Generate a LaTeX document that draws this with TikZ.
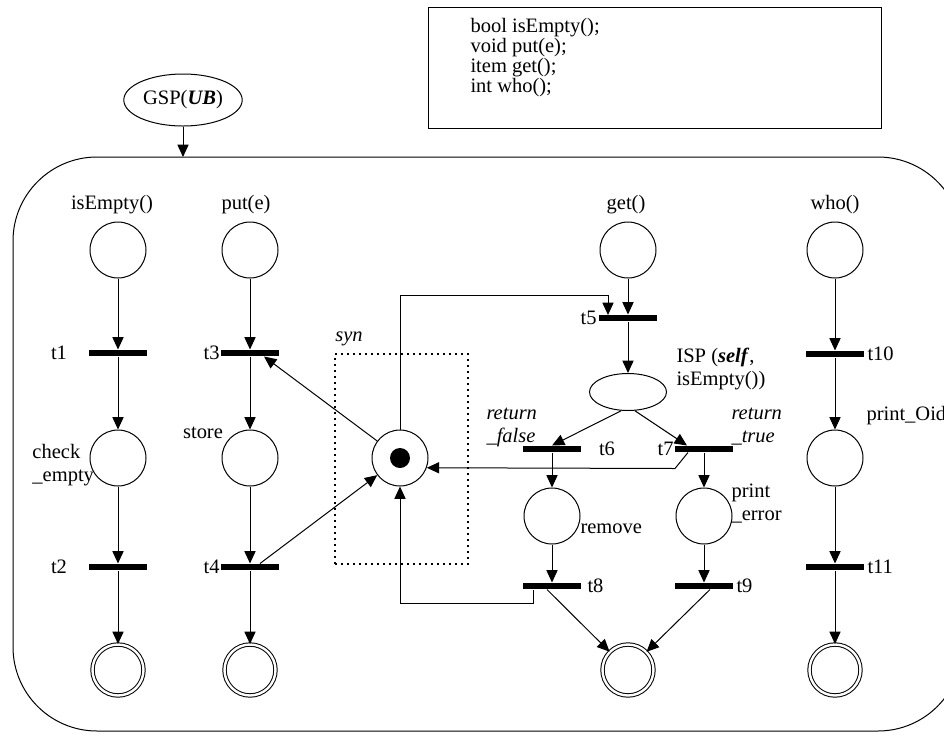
\documentclass[tikz,border=0pt]{standalone}
\usepackage{fontspec}
\setmainfont{Liberation Serif}
\usetikzlibrary{arrows.meta,shapes.geometric}

\begin{document}
\begin{tikzpicture}[x=0.5pt, y=-0.5pt, line width=0.5pt,
    >={Triangle[length=6.2pt,width=5.6pt]},
    every node/.style={font=\fontsize{10.25}{11.5}\selectfont}]
    \tikzset{place/.style={%
      draw,%
      circle,%
      minimum size=28pt,%
      inner sep=0pt}%
    };
\tikzset{finalplace/.style={place, minimum size=25.5pt, double, double distance=1.2pt}};
\tikzset{trans/.style={rectangle, fill=black, minimum width=29pt, minimum height=3pt, inner sep=0pt}};
\tikzset{lbl/.style={inner sep=0pt}};

\useasboundingbox (0,0) rectangle (944,735);
\clip (0,0) rectangle (944,735);

%generic service process and its interface
\node[draw, ellipse, minimum width=56pt, minimum height=26pt, inner sep=1pt] (gsp) at (183,100) {GSP(\textbf{\textit{UB}})};
\node[draw, anchor=north west, minimum width=226.5pt, minimum height=60.5pt] (iface) at (428,7) {};
\node[lbl, anchor=north west, align=left, font=\fontsize{10.25}{9.9}\selectfont] (ops) at (470,18) {bool isEmpty();\\void put(e);\\item get();\\int who();};

%object outline
\draw[rounded corners=42pt] (13,157) rectangle (962,731);
\coordinate (ubTop) at (183,157);
\draw[->] (gsp) -- (ubTop);

%isEmpty() column
\node[lbl] (emptyName) at (112,205) {isEmpty()};
\node[place] (emptyIn) at (118,250) {};
\node[trans] (t1) at (118,353) {};
\node[lbl] (t1Name) at (59,353) {t1};
\node[place] (checkEmpty) at (118,458) {};
\node[lbl, anchor=west, align=left] (checkName) at (32,465) {check\\\_empty};
\node[trans] (t2) at (118,567) {};
\node[lbl] (t2Name) at (59,567) {t2};
\node[finalplace] (emptyOut) at (118,670) {};

\draw[->] (emptyIn) -- (t1);
\draw[->] (t1) -- (checkEmpty);
\draw[->] (checkEmpty) -- (t2);
\draw[->] (t2) -- (emptyOut);

%put(e) column
\node[lbl] (putName) at (246,205) {put(e)};
\node[place] (putIn) at (250,250) {};
\node[trans] (t3) at (250,353) {};
\node[lbl, anchor=east] (t3Name) at (220,353) {t3};
\node[place] (store) at (250,458) {};
\node[lbl] (storeName) at (203,433) {store};
\node[trans] (t4) at (250,567) {};
\node[lbl, anchor=east] (t4Name) at (220,567) {t4};
\node[finalplace] (putOut) at (250,670) {};

\draw[->] (putIn) -- (t3);
\draw[->] (t3) -- (store);
\draw[->] (store) -- (t4);
\draw[->] (t4) -- (putOut);

%synchronisation place
\node[place] (syn) at (400,458) {};
\node[circle, fill=black, minimum size=10pt, inner sep=0pt] (token) at (syn) {};
\node[draw, dotted, line width=1pt, minimum width=66.5pt, minimum height=105pt, inner sep=0pt] (synBox) at (401.5,459) {};
\node[lbl, font=\fontsize{10.25}{11.5}\selectfont\itshape] (synName) at (349,339) {syn};

\draw[->] (syn) -- ([xshift=7pt]t3.south);
\draw[->] ([xshift=5pt]t4.north) -- (syn);

%get() column
\node[lbl] (getName) at (626,205) {get()};
\node[place] (getIn) at (628,250) {};
\node[trans] (t5) at (628,318) {};
\node[lbl, anchor=east] (t5Name) at (597,318) {t5};
\coordinate (t5In) at (608,315);
\node[draw, ellipse, minimum width=38.5pt, minimum height=18.5pt, inner sep=0pt] (isp) at (628,392) {};
\node[lbl, anchor=west, align=left] (ispName) at (676,369) {ISP (\textbf{\textit{self}},\\isEmpty())};

\node[trans] (t6) at (552,449) {};
\node[lbl] (t6Name) at (607,449) {t6};
\node[lbl, anchor=west, align=left, font=\fontsize{10.25}{11.5}\selectfont\itshape] (falseName) at (486,427) {return\\\_false};
\node[place] (remove) at (552,516) {};
\node[lbl, anchor=west] (removeName) at (580,529) {remove};
\node[trans] (t8) at (552,586) {};
\node[lbl, anchor=west] (t8Name) at (587,586) {t8};

\node[trans] (t7) at (704,449) {};
\node[lbl, anchor=east] (t7Name) at (674,449) {t7};
\node[lbl, anchor=west, align=left, font=\fontsize{10.25}{11.5}\selectfont\itshape] (trueName) at (731,427) {return\\\_true};
\node[place] (printError) at (704,516) {};
\node[lbl, anchor=west, align=left] (errorName) at (731,504) {print\\\_error};
\node[trans] (t9) at (704,586) {};
\node[lbl, anchor=west] (t9Name) at (736,586) {t9};

\node[finalplace] (getOut) at (628,670) {};

\draw[->] (getIn) -- (t5);
\draw[->] (syn.north) -- ++(0,-134) -| (t5In);
\draw[->] (t5) -- (isp);
\draw[->] (isp.250) -- (t6.north);
\draw[->] (isp.290) -- ([xshift=-8.5pt]t7.north);
\draw[->] (t6) -- (remove);
\draw[->] (t7) -- (printError);
\draw[->] (remove) -- (t8);
\draw[->] (printError) -- (t9);
\draw[->] ([xshift=-8pt]t7.south) -- ++(-13,16) -- (syn.-20);
\draw[->] ([xshift=-9.5pt]t8.south) -- ++(0,14) -| (syn.south);
\draw[->] ([xshift=-2.5pt]t8.south) -- (getOut);
\draw[->] ([xshift=3pt]t9.south) -- (getOut);

%who() column
\node[lbl] (whoName) at (835,205) {who()};
\node[place] (whoIn) at (835,250) {};
\node[trans] (t10) at (835,354) {};
\node[lbl, anchor=west] (t10Name) at (867,354) {t10};
\node[place] (printOid) at (835,458) {};
\node[lbl, anchor=west] (oidName) at (866,416) {print\_Oid};
\node[trans] (t11) at (835,567) {};
\node[lbl, anchor=west] (t11Name) at (867,567) {t11};
\node[finalplace] (whoOut) at (835,670) {};

\draw[->] (whoIn) -- (t10);
\draw[->] (t10) -- (printOid);
\draw[->] (printOid) -- (t11);
\draw[->] (t11) -- (whoOut);

\end{tikzpicture}
\end{document}
